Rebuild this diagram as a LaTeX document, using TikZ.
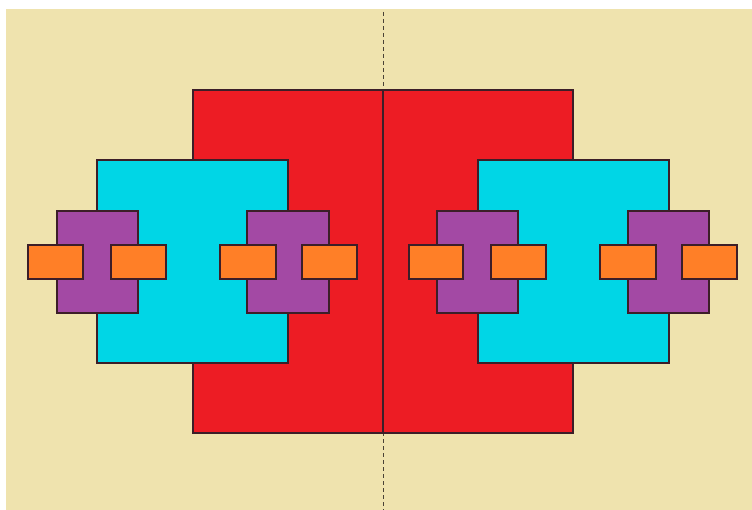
\documentclass[tikz,border=0pt]{standalone}
\definecolor{bg}{HTML}{EFE3AE}
\definecolor{redc}{HTML}{ED1C24}
\definecolor{cyanc}{HTML}{00D6E6}
\definecolor{purp}{HTML}{A349A4}
\definecolor{orng}{HTML}{FF7F27}
\definecolor{edge}{HTML}{3C1E28}
\definecolor{dashc}{HTML}{4A4236}
\tikzset{
  box/.style={draw=edge, line width=1.2pt},
  redbox/.style={box, fill=redc},
  cyanbox/.style={box, fill=cyanc},
  purpbox/.style={box, fill=purp},
  orngbox/.style={box, fill=orng},
  axis/.style={draw=dashc, line width=1pt, dash pattern=on 4pt off 3pt}
}
\begin{document}
\begin{tikzpicture}[x=1pt,y=-1pt]
\useasboundingbox (0,0) rectangle (752,510);
\fill[white] (0,0) rectangle (752,510);
\fill[bg] (6,9) rectangle (752,510);
% axis
\coordinate (top) at (383,12);
\coordinate (bot) at (383,510);
\draw[axis] (top) -- (bot);
% red
\draw[redbox] (193,90) rectangle (383,433);
\draw[redbox] (383,90) rectangle (573,433);
% cyan
\draw[cyanbox] (97,160) rectangle (288,363);
\draw[cyanbox] (478,160) rectangle (669,363);
% purple
\draw[purpbox] (57,211) rectangle (138,313);
\draw[purpbox] (247,211) rectangle (329,313);
\draw[purpbox] (437,211) rectangle (518,313);
\draw[purpbox] (628,211) rectangle (709,313);
% orange
\foreach \a/\b in {28/83,111/166,220/276,302/357,409/463,491/546,600/656,682/737}{
  \draw[orngbox] (\a,245) rectangle (\b,279);
}
\end{tikzpicture}
\end{document}
